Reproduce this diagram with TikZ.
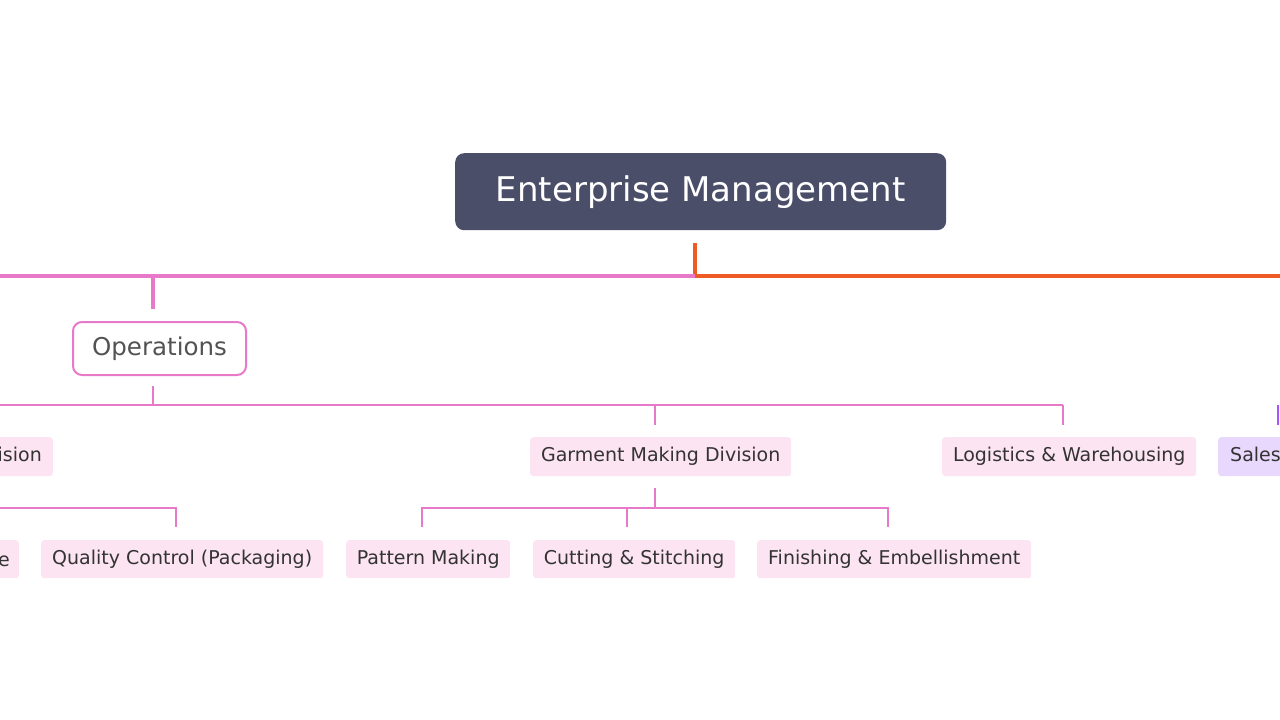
\documentclass[tikz,border=0pt]{standalone}
\usepackage{fontspec}
\setmainfont{DejaVu Sans}
\begin{document}
\begin{tikzpicture}[x=1pt,y=-1pt,
  leaf/.style={fill=leafbg,text=leaftx,rounded corners=3pt,font=\fontsize{19}{22}\selectfont,inner sep=0pt,anchor=north west},
  pk/.style={draw=pinkl,line width=2.5pt},
]
\definecolor{pinkl}{HTML}{E879C9}
\definecolor{leafbg}{HTML}{FCE4F3}
\definecolor{leaftx}{HTML}{333333}
\definecolor{rootbg}{HTML}{4A4E69}
\definecolor{orangel}{HTML}{F05A24}
\definecolor{purl}{HTML}{A855F7}
\definecolor{purbg}{HTML}{E9D8FD}
\useasboundingbox (0,0) rectangle (1280,720);
\clip (0,0) rectangle (1280,720);
% root
\node[fill=rootbg,rounded corners=9pt,minimum width=491pt,minimum height=77pt,anchor=north west,text=white,font=\fontsize{34}{38}\selectfont,inner sep=0pt] (root) at (455,153) {Enterprise Management};
\coordinate (r0) at (695,243);
\coordinate (r1) at (695,276);
\coordinate (rR) at (1280,276);
\coordinate (rL) at (0,276);
\draw[orangel,line width=4pt] (r0) -- (r1) -- (rR);
\draw[pinkl,line width=4pt] (r1) -- (rL);
\draw[pinkl,line width=4pt] (153,276) -- (153,309);
% operations
\node[draw=pinkl,line width=2pt,fill=white,rounded corners=9pt,minimum width=173pt,minimum height=53pt,anchor=north west,text=leaftx!85,font=\fontsize{24.5}{28}\selectfont,inner sep=0pt] (ops) at (72,321) {Operations};
\draw[pk] (153,386) -- (153,405);
\draw[pk] (0,405) -- (1063,405);
\draw[pk] (655,405) -- (655,425);
\draw[pk] (1063,405) -- (1063,425);
\draw[purl,line width=2.5pt] (1278,405) -- (1278,425);
% level 2
\node[leaf,anchor=north east,minimum height=39pt,inner xsep=11pt] (div1) at (53,437) {Packaging Division};
\node[leaf,minimum width=261pt,minimum height=39pt] (gmd) at (530,437) {Garment Making Division};
\node[leaf,minimum width=254pt,minimum height=39pt] (log) at (942,437) {Logistics \& Warehousing};
\node[leaf,fill=purbg,minimum height=39pt,anchor=north west,inner xsep=12pt] (sales) at (1218,437) {Sales \& Marketing};
% connectors level 3
\draw[pk] (0,508) -- (176,508) -- (176,527);
\draw[pk] (655,488) -- (655,508);
\draw[pk] (422,527) -- (422,508) -- (888,508) -- (888,527);
\draw[pk] (627,508) -- (627,527);
% level 3
\node[leaf,minimum height=38pt,anchor=north east,inner xsep=9pt] (e) at (19,540) {Store};
\node[leaf,minimum width=282pt,minimum height=38pt] (qc) at (41,540) {Quality Control (Packaging)};
\node[leaf,minimum width=164pt,minimum height=38pt] (pm) at (346,540) {Pattern Making};
\node[leaf,minimum width=202pt,minimum height=38pt] (cs) at (533,540) {Cutting \& Stitching};
\node[leaf,minimum width=274pt,minimum height=38pt] (fe) at (757,540) {Finishing \& Embellishment};
\end{tikzpicture}
\end{document}
